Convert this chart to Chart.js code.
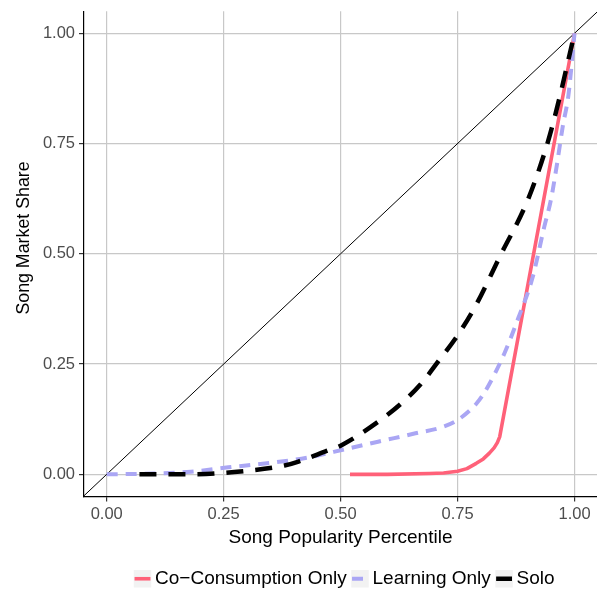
<!DOCTYPE html>
<html>
<head>
<meta charset="utf-8">
<script src="https://cdn.jsdelivr.net/npm/chart.js@4.4.1/dist/chart.umd.min.js"></script>
<style>
  html, body { margin: 0; padding: 0; background: #fff; overflow: hidden; }
  canvas { display: block; }
</style>
</head>
<body>
<canvas id="chart" width="597" height="593"></canvas>
<script>
// Series labels
const seriesNames = ['Co\u2212Consumption Only', 'Learning Only', 'Solo'];
const xTitle = 'Song Popularity Percentile';
const yTitle = 'Song Market Share';

// Co-Consumption Only: popularity percentile vs. market share
const coConsumptionX = [0.52, 0.60, 0.69, 0.72, 0.75, 0.77, 0.79, 0.805, 0.818, 0.828, 0.835, 0.84, 1.00];
const coConsumptionY = [0.000, 0.000, 0.002, 0.003, 0.007, 0.013, 0.025, 0.035, 0.048, 0.060, 0.072, 0.085, 1.00];

// Learning Only
const learningX = [0.00, 0.10, 0.18, 0.26, 0.35, 0.43, 0.51, 0.58, 0.66, 0.72, 0.75, 0.79, 0.81, 0.85, 0.88, 0.91, 0.935, 0.95, 0.962, 0.975, 0.987, 1.00];
const learningY = [0.000, 0.002, 0.006, 0.016, 0.026, 0.038, 0.057, 0.074, 0.093, 0.108, 0.123, 0.160, 0.190, 0.274, 0.355, 0.445, 0.560, 0.625, 0.700, 0.790, 0.860, 1.00];

// Solo
const soloX = [0.07, 0.18, 0.30, 0.38, 0.41, 0.47, 0.50, 0.58, 0.63, 0.67, 0.71, 0.75, 0.79, 0.84, 0.90, 0.94, 0.96, 1.00];
const soloY = [0.000, 0.000, 0.008, 0.020, 0.029, 0.053, 0.065, 0.119, 0.161, 0.203, 0.258, 0.315, 0.385, 0.493, 0.622, 0.743, 0.820, 1.00];

// Equality line y = x across the panel
const diagonal = [-0.1, 1.1];

// Axis ticks
const tickValues = [0, 0.25, 0.5, 0.75, 1];

const FONT = '"Liberation Sans", Arial, Helvetica, sans-serif';
Chart.defaults.font.family = FONT;

const toPoints = (xs, ys) => xs.map((x, i) => ({ x: x, y: ys[i] }));

// Axis titles drawn beside the panel
const axisTitles = {
  id: 'axisTitles',
  afterDraw(chart) {
    const ctx = chart.ctx;
    const area = chart.chartArea;
    ctx.save();
    ctx.fillStyle = '#000';
    ctx.textAlign = 'center';
    ctx.textBaseline = 'alphabetic';
    ctx.font = '19px ' + FONT;
    ctx.fillText(xTitle, (area.left + area.right) / 2, 542.5);
    ctx.font = '17.8px ' + FONT;
    ctx.translate(29, 238);
    ctx.rotate(-Math.PI / 2);
    ctx.fillText(yTitle, 0, 0);
    ctx.restore();
  }
};

// Legend along the bottom with grey key boxes
const bottomLegend = {
  id: 'bottomLegend',
  afterDraw(chart) {
    const ctx = chart.ctx;
    const items = chart.data.datasets.filter(d => seriesNames.includes(d.label))
      .sort((a, b) => seriesNames.indexOf(a.label) - seriesNames.indexOf(b.label));
    ctx.save();
    ctx.font = '19px ' + FONT;
    const box = 17.5, gapText = 3.8, gapItem = 4.5;
    let total = 0;
    items.forEach((d, i) => {
      total += box + gapText + ctx.measureText(d.label).width + (i < items.length - 1 ? gapItem : 0);
    });
    let x = 344.2 - total / 2;
    const top = 570;
    const cy = top + box / 2;
    items.forEach(d => {
      ctx.fillStyle = '#f2f2f2';
      ctx.fillRect(x, top, box, box);
      ctx.beginPath();
      ctx.strokeStyle = d.borderColor;
      ctx.lineWidth = d.borderWidth;
      ctx.lineCap = 'butt';
      ctx.setLineDash(d.borderDash || []);
      ctx.moveTo(x + 0.8, cy);
      ctx.lineTo(x + box - 0.8, cy);
      ctx.stroke();
      ctx.setLineDash([]);
      ctx.fillStyle = '#000';
      ctx.textBaseline = 'alphabetic';
      ctx.textAlign = 'left';
      const tx = x + box + gapText;
      ctx.fillText(d.label, tx, 583.5);
      x = tx + ctx.measureText(d.label).width + gapItem;
    });
    ctx.restore();
  }
};

new Chart(document.getElementById('chart'), {
  type: 'line',
  data: {
    datasets: [
      {
        label: seriesNames[2],
        data: toPoints(soloX, soloY),
        borderColor: '#000000',
        borderWidth: 4.5,
        borderDash: [17, 12],
        borderCapStyle: 'butt',
        cubicInterpolationMode: 'monotone',
        pointRadius: 0,
        fill: false,
        order: 1
      },
      {
        label: seriesNames[1],
        data: toPoints(learningX, learningY),
        borderColor: '#aaa6f4',
        borderWidth: 4,
        borderDash: [11, 8],
        borderCapStyle: 'butt',
        cubicInterpolationMode: 'monotone',
        pointRadius: 0,
        fill: false,
        order: 2
      },
      {
        label: seriesNames[0],
        data: toPoints(coConsumptionX, coConsumptionY),
        borderColor: '#ff6179',
        borderWidth: 3.6,
        tension: 0,
        borderJoinStyle: 'round',
        pointRadius: 0,
        fill: false,
        order: 3
      },
      {
        label: 'diagonal',
        data: toPoints(diagonal, diagonal),
        borderColor: '#000000',
        borderWidth: 1,
        tension: 0,
        pointRadius: 0,
        fill: false,
        order: 4
      }
    ]
  },
  options: {
    responsive: false,
    devicePixelRatio: 1,
    animation: false,
    layout: { padding: { top: 11.2, right: 0, bottom: 43.6, left: 0 } },
    plugins: {
      legend: { display: false },
      tooltip: { enabled: false }
    },
    scales: {
      x: {
        type: 'linear',
        min: -0.0485,
        max: 1.048,
        afterBuildTicks: s => { s.ticks = tickValues.map(v => ({ value: v })); },
        afterFit: s => { s.height = 53; s.paddingLeft = 0; s.paddingRight = 0; },
        ticks: {
          callback: v => Number(v).toFixed(2),
          color: '#4d4d4d',
          font: { size: 16.5 },
          padding: 3,
          maxRotation: 0,
          autoSkip: false
        },
        grid: {
          color: '#c8c8c8',
          lineWidth: 1.2,
          drawTicks: true,
          tickLength: 5,
          tickColor: '#333333',
          tickWidth: 1.2
        },
        border: { display: true, color: '#000000', width: 1.2 }
      },
      y: {
        type: 'linear',
        min: -0.05,
        max: 1.05,
        afterBuildTicks: s => { s.ticks = tickValues.map(v => ({ value: v })); },
        afterFit: s => { s.width = 84; s.paddingTop = 0; s.paddingBottom = 0; },
        ticks: {
          callback: v => Number(v).toFixed(2),
          color: '#4d4d4d',
          font: { size: 16.5 },
          padding: 4,
          autoSkip: false
        },
        grid: {
          color: '#c8c8c8',
          lineWidth: 1.2,
          drawTicks: true,
          tickLength: 5,
          tickColor: '#333333',
          tickWidth: 1.2
        },
        border: { display: true, color: '#000000', width: 1.2 }
      }
    }
  },
  plugins: [axisTitles, bottomLegend]
});
</script>
</body>
</html>
